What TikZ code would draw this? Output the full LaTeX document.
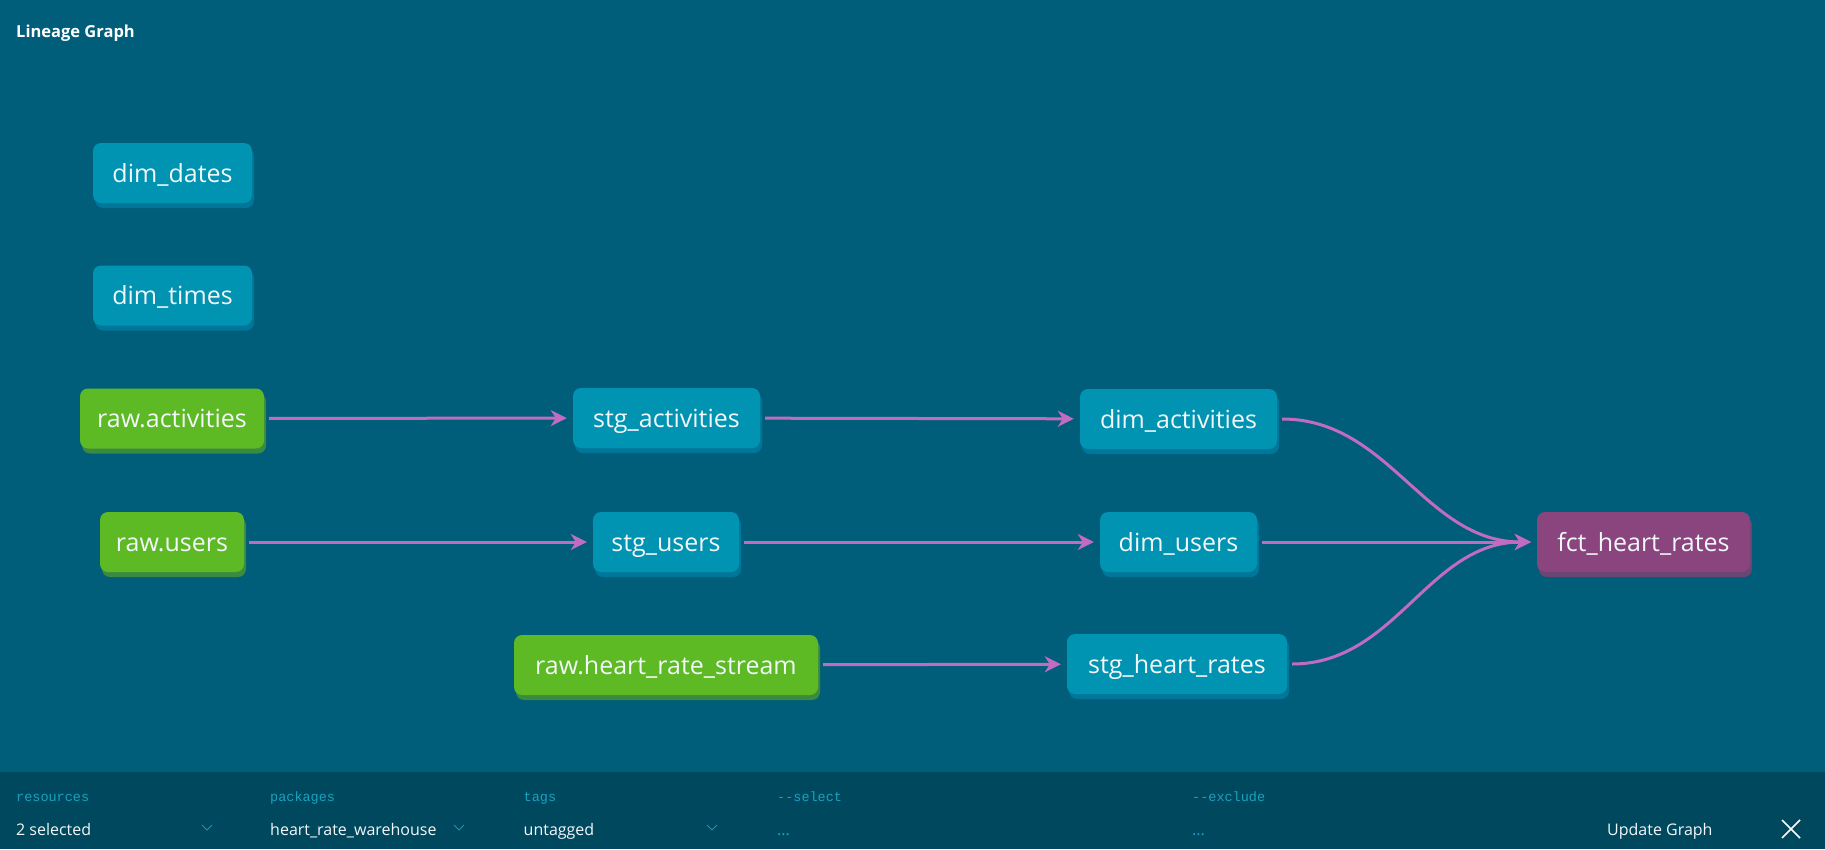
\documentclass[tikz,border=0pt]{standalone}
\usepackage{fontspec}
\setmainfont{Open Sans}
\newfontfamily\monof{Liberation Mono}
\usetikzlibrary{shadows,arrows.meta}
\definecolor{bg}{HTML}{005E7A}
\definecolor{bar}{HTML}{00485D}
\definecolor{nodeblue}{HTML}{0093B2}
\definecolor{blueshadow}{HTML}{00779A}
\definecolor{nodegreen}{HTML}{5DB924}
\definecolor{greenshadow}{HTML}{3A8A42}
\definecolor{nodepurple}{HTML}{8A457E}
\definecolor{purpleshadow}{HTML}{6A4672}
\definecolor{edgec}{HTML}{C26CC0}
\definecolor{labelc}{HTML}{19A2C0}
\definecolor{chevc}{HTML}{2B8FAB}
\definecolor{txt}{HTML}{F2F7F9}
\tikzset{
  basebox/.style={rounded corners=8pt, text=txt, font=\fontsize{25}{30}\selectfont,
    text height=24pt, text depth=6pt, inner sep=0pt, minimum height=60pt, align=center},
  model/.style={basebox, fill=nodeblue,
    general shadow={fill=blueshadow, shadow xshift=2pt, shadow yshift=-5pt}},
  source/.style={basebox, fill=nodegreen,
    general shadow={fill=greenshadow, shadow xshift=2pt, shadow yshift=-5pt}},
  fact/.style={basebox, fill=nodepurple,
    general shadow={fill=purpleshadow, shadow xshift=2pt, shadow yshift=-5pt}},
  edge/.style={draw=edgec, line width=3pt, -{Stealth[length=16pt,width=16pt,inset=5pt]},
    shorten <=5pt, shorten >=6pt},
  barlabel/.style={anchor=base west, inner sep=0pt, text=labelc, font=\monof\fontsize{13.5}{16}\selectfont},
  barvalue/.style={anchor=base west, inner sep=0pt, text=txt, font=\fontsize{16}{19}\selectfont},
  chev/.style={draw=chevc, line width=1pt}
}
\begin{document}
\begin{tikzpicture}[x=1pt,y=-1pt]
\useasboundingbox (0,0) rectangle (1825,849);
\fill[bg] (0,0) rectangle (1825,849);
\fill[bar] (0,772) rectangle (1825,849);

\node[anchor=base west, inner sep=0pt, text=white, font=\bfseries\fontsize{16.5}{20}\selectfont] (title) at (16,37) {Lineage Graph};

% nodes
\node[model, minimum width=159pt] (dimdates) at (172.5,173) {dim\_dates};
\node[model, minimum width=159pt] (dimtimes) at (172.5,295.5) {dim\_times};
\node[source, minimum width=184pt] (rawact) at (172,418.5) {raw.activities};
\node[source, minimum width=144pt] (rawusers) at (172,542) {raw.users};
\node[source, minimum width=304pt] (rawhr) at (666,665) {raw.heart\_rate\_stream};
\node[model, minimum width=187pt] (stgact) at (666.5,418) {stg\_activities};
\node[model, minimum width=146pt] (stgusers) at (666,542) {stg\_users};
\node[model, minimum width=220pt] (stghr) at (1177,664) {stg\_heart\_rates};
\node[model, minimum width=197pt] (dimact) at (1178.5,419) {dim\_activities};
\node[model, minimum width=157pt] (dimusers) at (1178.5,542) {dim\_users};
\node[fact, minimum width=213pt] (fct) at (1643.5,542) {fct\_heart\_rates};

% edges
\draw[edge] (rawact) -- (stgact);
\draw[edge] (rawusers) -- (stgusers);
\draw[edge] (rawhr) -- (stghr);
\draw[edge] (stgact) -- (dimact);
\draw[edge] (stgusers) -- (dimusers);
\draw[edge] (dimact) to[out=0,in=180] (fct);
\draw[edge] (dimusers) -- (fct);
\draw[edge] (stghr) to[out=0,in=180] (fct);

% bottom bar
\node[barlabel] (lres) at (16,801) {resources};
\node[barlabel] (lpkg) at (270,801) {packages};
\node[barlabel] (ltag) at (523.5,801) {tags};
\node[barlabel] (lsel) at (777,801) {-{}-select};
\node[barlabel] (lexc) at (1192,801) {-{}-exclude};

\node[barvalue] (vres) at (16,835) {2 selected};
\node[barvalue] (vpkg) at (270,835) {heart\_rate\_warehouse};
\node[barvalue] (vtag) at (523.5,835) {untagged};
\node[barvalue, text=labelc] (vsel) at (777,835) {...};
\node[barvalue, text=labelc] (vexc) at (1192,835) {...};
\node[barvalue] (upd) at (1607,835) {Update Graph};

\draw[chev] (202,825) -- (207,830) -- (212,825);
\draw[chev] (454,825) -- (459,830) -- (464,825);
\draw[chev] (707,825) -- (712,830) -- (717,825);

\draw[white, line width=1.6pt] (1782,820) -- (1800,838);
\draw[white, line width=1.6pt] (1800,820) -- (1782,838);
\end{tikzpicture}
\end{document}
